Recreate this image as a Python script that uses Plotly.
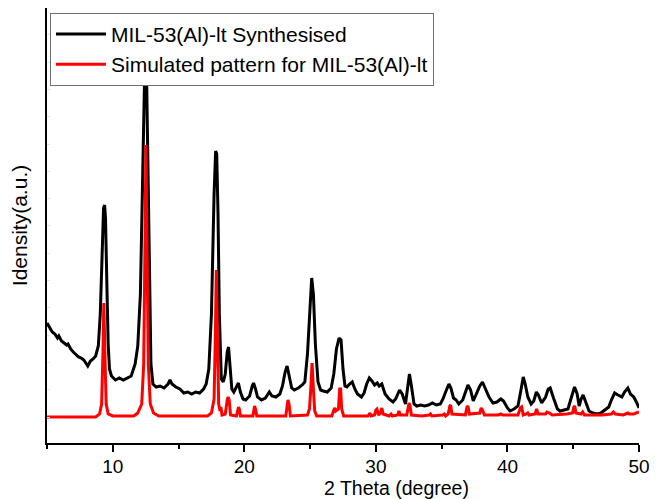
import plotly.graph_objects as go

# 2-theta positions (degree) and intensities (a.u.)
synth_x = [5.0, 5.2, 5.4, 5.6, 5.8, 5.9, 6.1, 6.3, 6.5, 6.6, 6.8, 7.0, 7.2, 7.4, 7.6, 7.8, 8.0, 8.1, 8.3, 8.5,
           8.7, 8.9, 9.05, 9.2, 9.3, 9.38, 9.45, 9.55, 9.65, 9.75, 9.9, 10.2, 10.5, 10.8, 11.1, 11.4, 11.7, 11.9,
           12.1, 12.3, 12.45, 12.55, 12.7, 12.8, 12.9, 13.05, 13.3, 13.6, 13.9, 14.2, 14.35, 14.5, 14.8, 15.1,
           15.4, 15.7, 16.0, 16.3, 16.6, 16.9, 17.1, 17.3, 17.5, 17.7, 17.82, 17.9, 18.0, 18.1, 18.25, 18.4,
           18.55, 18.7, 18.8, 18.9, 19.05, 19.2, 19.4, 19.55, 19.7, 19.9, 20.1, 20.4, 20.6, 20.7, 20.85, 21.0,
           21.3, 21.6, 21.9, 22.1, 22.4, 22.7, 22.9, 23.1, 23.25, 23.4, 23.6, 23.8, 24.1, 24.4, 24.6, 24.8,
           25.0, 25.12, 25.25, 25.4, 25.6, 25.8, 26.0, 26.3, 26.6, 26.8, 27.0, 27.2, 27.35, 27.5, 27.65, 27.8,
           28.0, 28.2, 28.4, 28.6, 28.9, 29.1, 29.3, 29.5, 29.7, 29.9, 30.1, 30.25, 30.45, 30.7, 31.0, 31.3,
           31.5, 31.8, 32.0, 32.25, 32.4, 32.55, 32.7, 32.9, 33.1, 33.4, 33.7, 34.0, 34.3, 34.6, 34.9, 35.1,
           35.3, 35.55, 35.7, 35.9, 36.1, 36.3, 36.6, 36.8, 37.0, 37.2, 37.4, 37.6, 37.9, 38.1, 38.3, 38.6,
           38.9, 39.2, 39.5, 39.7, 40.0, 40.2, 40.5, 40.8, 41.0, 41.2, 41.35, 41.55, 41.8, 42.0, 42.2, 42.35,
           42.6, 42.9, 43.1, 43.25, 43.5, 43.8, 44.0, 44.3, 44.6, 44.8, 45.1, 45.3, 45.45, 45.6, 45.75, 45.95,
           46.2, 46.5, 46.8, 47.1, 47.4, 47.7, 47.9, 48.15, 48.4, 48.7, 48.9, 49.15, 49.35, 49.6, 49.8, 50.0]
synth_y = [121, 117, 112, 110, 106, 108, 103, 101, 99, 100, 95, 92, 89, 87, 86, 84, 80, 78, 83, 85,
           88, 98, 130, 200, 236, 239, 225, 160, 100, 75, 68, 64, 66, 64, 66, 68, 80, 98,
           150, 280, 389, 385, 250, 120, 80, 60, 57, 58, 56, 60, 64, 60, 57, 55,
           51, 52, 50, 52, 51, 55, 60, 75, 130, 250, 293, 290, 230, 130, 65, 62,
           70, 92, 97, 80, 55, 52, 58, 61, 52, 45, 44, 48, 58, 61, 55, 47,
           44, 46, 52, 48, 47, 50, 58, 72, 78, 68, 56, 54, 56, 59, 62, 90,
           145, 166, 150, 100, 62, 54, 53, 52, 56, 70, 95, 106, 104, 75, 58, 57,
           60, 62, 55, 50, 47, 51, 60, 66, 63, 59, 61, 58, 60, 50, 45, 42,
           45, 54, 50, 40, 55, 70, 58, 40, 38, 39, 38, 39, 41, 39, 40, 45,
           52, 60, 56, 46, 44, 40, 44, 52, 59, 54, 43, 49, 58, 62, 56, 47,
           41, 42, 45, 43, 36, 33, 35, 38, 52, 67, 60, 47, 40, 43, 52, 49,
           41, 47, 55, 56, 46, 35, 33, 34, 35, 44, 57, 50, 38, 45, 49, 42,
           33, 31, 30, 31, 34, 37, 44, 51, 49, 47, 52, 56, 50, 47, 42, 36]

sim_x = [5.0, 8.7, 9.0, 9.15, 9.25, 9.32, 9.4, 9.5, 9.65, 10.0, 11.6, 11.9, 12.2, 12.35, 12.45, 12.52, 12.6,
         12.7, 12.85, 13.1, 13.5, 17.2, 17.5, 17.7, 17.8, 17.87, 17.95, 18.05, 18.15, 18.22, 18.3, 18.55,
         18.7, 18.77, 18.85, 18.95, 19.4, 19.5, 19.56, 19.62, 19.7, 20.65, 20.73, 20.78, 20.85, 20.95, 23.15,
         23.25, 23.32, 23.4, 23.5, 24.8, 24.95, 25.05, 25.15, 25.25, 25.35, 25.5, 26.65, 26.8, 26.88, 26.95,
         27.15, 27.25, 27.32, 27.4, 27.55, 29.4, 29.55, 29.65, 29.9, 30.0, 30.08, 30.2, 30.35, 30.45, 30.55,
         31.0, 31.15, 31.25, 31.65, 31.75, 31.85, 32.35, 32.45, 32.52, 32.6, 32.7, 33.5, 34.05, 34.15, 34.25,
         35.05, 35.2, 35.3, 35.5, 35.62, 35.68, 35.78, 36.8, 36.92, 37.0, 37.1, 37.9, 38.0, 38.1, 38.25, 39.3,
         39.5, 39.65, 40.8, 40.98, 41.08, 41.2, 41.45, 41.55, 41.65, 42.1, 42.22, 42.32, 42.9, 43.0, 43.2,
         43.4, 44.5, 44.95, 45.05, 45.12, 45.2, 45.6, 45.72, 45.85, 47.2, 47.9, 48.05, 48.2, 48.8, 49.15,
         49.25, 49.6, 50.0]
sim_y = [27, 27, 30, 40, 90, 141, 90, 40, 30, 28, 28, 31, 40, 80, 200, 299, 200,
         80, 40, 31, 28, 28, 31, 45, 110, 174, 110, 40, 33, 37, 29, 30,
         44, 47, 44, 29, 28, 35, 37, 35, 28, 28, 37, 38, 35, 28, 28,
         40, 44, 40, 28, 29, 35, 55, 81, 55, 33, 28, 28, 34, 36, 33,
         35, 55, 55, 35, 28, 28, 31, 28, 29, 34, 35, 29, 31, 36, 30,
         28, 30, 28, 29, 33, 29, 29, 38, 41, 38, 29, 28, 29, 30, 28,
         29, 30, 28, 30, 38, 39, 30, 29, 37, 38, 30, 31, 36, 34, 29, 29,
         30, 29, 29, 36, 37, 29, 30, 31, 29, 30, 35, 30, 30, 32, 31,
         29, 30, 31, 37, 38, 31, 30, 32, 29, 29, 30, 32, 30, 29, 31,
         30, 30, 32]

x_ticks = [10, 20, 30, 40, 50]

FONT = "Arial, 'Liberation Sans', sans-serif"

fig = go.Figure()
fig.add_trace(go.Scatter(x=synth_x, y=synth_y, mode="lines",
                         name="MIL-53(Al)-lt Synthesised",
                         line=dict(color="black", width=3)))
fig.add_trace(go.Scatter(x=sim_x, y=sim_y, mode="lines",
                         name="Simulated pattern for MIL-53(Al)-lt",
                         line=dict(color="#ff0000", width=3)))

fig.update_layout(
    width=658, height=499,
    margin=dict(l=47, r=16, t=8, b=56),
    paper_bgcolor="white", plot_bgcolor="white",
    font=dict(family=FONT, size=20, color="black"),
    showlegend=True,
    legend=dict(x=0.005, y=0.989, xanchor="left", yanchor="top",
                bgcolor="white", bordercolor="#707070", borderwidth=1,
                font=dict(family=FONT, size=21, color="black"),
                tracegroupgap=0, itemwidth=50),
    xaxis=dict(range=[5, 50], tickvals=x_ticks, ticktext=[str(v) for v in x_ticks],
               ticks="outside", ticklen=7, tickwidth=1.5, tickcolor="black",
               showline=True, linecolor="black", linewidth=1.5, mirror=False,
               showgrid=False, zeroline=False, ticklabelstandoff=-2,
               tickfont=dict(family=FONT, size=19, color="black"),
               minor=dict(tickvals=[5, 15, 25, 35, 45], ticks="outside", ticklen=4,
                          tickwidth=1.5, tickcolor="black", showgrid=False)),
    yaxis=dict(range=[1, 436], showticklabels=False,
               ticks="inside", tick0=27, dtick=27.3, ticklen=3, tickwidth=1, tickcolor="#e0e0e0",
               showline=True, linecolor="black", linewidth=1.5, mirror=False,
               showgrid=False, zeroline=False,
               title=dict(text="Idensity(a.u.)", standoff=12,
                          font=dict(family=FONT, size=21, color="black"))),
)

fig.add_annotation(text="2 Theta (degree)", xref="paper", yref="paper",
                   x=(398 - 47) / 595, y=(443 - 488) / 435,
                   xanchor="center", yanchor="middle", showarrow=False,
                   font=dict(family=FONT, size=19.5, color="black"))

fig.write_html("out.html")
